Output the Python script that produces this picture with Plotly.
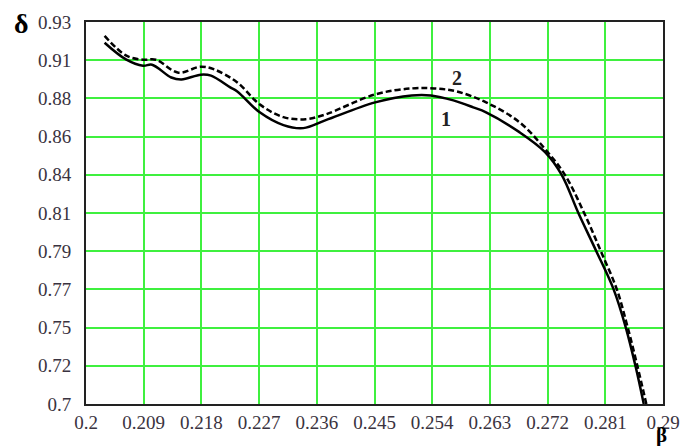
import plotly.graph_objs as go

# curve 1 (solid)
beta_1 = [0.2029, 0.2063, 0.2089, 0.2103, 0.2133, 0.2149, 0.2179, 0.2195, 0.2225, 0.2236,
          0.2271, 0.2308, 0.2339, 0.2374, 0.2451, 0.2508, 0.2538, 0.2573, 0.2604, 0.2624,
          0.2676, 0.2716, 0.2742, 0.2768, 0.2796, 0.2823, 0.2842, 0.2857, 0.2870]
delta_1 = [0.9175, 0.9073, 0.9037, 0.9043, 0.8966, 0.8954, 0.8983, 0.8977, 0.8906, 0.8882,
           0.8756, 0.8679, 0.8661, 0.8709, 0.8816, 0.8858, 0.8858, 0.8828, 0.8786, 0.8756,
           0.8637, 0.8517, 0.8380, 0.8150, 0.7920, 0.7690, 0.7460, 0.7230, 0.7000]

# curve 2 (dashed)
beta_2 = [0.2029, 0.2063, 0.2089, 0.2109, 0.2144, 0.2179, 0.2201, 0.2236, 0.2271, 0.2308,
          0.2343, 0.2374, 0.2451, 0.2508, 0.2543, 0.2578, 0.2624, 0.2676, 0.2716, 0.2747,
          0.2777, 0.2803, 0.2828, 0.2845, 0.2860, 0.2874]
delta_2 = [0.9216, 0.9097, 0.9073, 0.9073, 0.8995, 0.9031, 0.9013, 0.8936, 0.8804, 0.8727,
           0.8715, 0.8744, 0.8864, 0.8900, 0.8900, 0.8882, 0.8816, 0.8697, 0.8535, 0.8380,
           0.8150, 0.7920, 0.7690, 0.7460, 0.7230, 0.7000]

x_ticks = [0.2, 0.209, 0.218, 0.227, 0.236, 0.245, 0.254, 0.263, 0.272, 0.281, 0.29]
x_labels = ["0.2", "0.209", "0.218", "0.227", "0.236", "0.245", "0.254", "0.263", "0.272", "0.281", "0.29"]
y_ticks = [0.7, 0.723, 0.746, 0.769, 0.792, 0.815, 0.838, 0.861, 0.884, 0.907, 0.93]
y_labels = ["0.7", "0.72", "0.75", "0.77", "0.79", "0.81", "0.84", "0.86", "0.88", "0.91", "0.93"]

serif = "Liberation Serif, Times New Roman, serif"
grid = "#3ff03f"

fig = go.Figure()
fig.add_trace(go.Scatter(x=beta_1, y=delta_1, mode="lines", line=dict(color="black", width=2.5, shape="spline"), name="1"))
fig.add_trace(go.Scatter(x=beta_2, y=delta_2, mode="lines", line=dict(color="black", width=2.5, dash="6px,3px", shape="spline"), name="2"))

fig.add_annotation(x=0.2561, y=0.8715, text="<b>1</b>", showarrow=False, font=dict(family=serif, size=20, color="#222"))
fig.add_annotation(x=0.2578, y=0.8960, text="<b>2</b>", showarrow=False, font=dict(family=serif, size=20, color="#222"))
fig.add_annotation(xref="paper", yref="paper", x=-0.111, y=0.995, xanchor="center", yanchor="middle",
                   text="<b>δ</b>", showarrow=False, font=dict(family=serif, size=28, color="black"))
fig.add_annotation(xref="paper", yref="paper", x=0.998, y=-0.082, xanchor="center", yanchor="middle",
                   text="<b>β</b>", showarrow=False, font=dict(family=serif, size=21, color="black"))

fig.update_layout(
    width=692, height=446,
    margin=dict(l=86, r=19, t=19, b=42),
    plot_bgcolor="white", paper_bgcolor="white",
    showlegend=False,
    font=dict(family=serif, size=19, color="#3a3340"),
)
fig.update_xaxes(range=[0.2, 0.29], tickvals=x_ticks, ticktext=x_labels,
                 showgrid=True, gridcolor=grid, gridwidth=1.5,
                 showline=True, linecolor="#222", linewidth=2, mirror=True,
                 ticks="", ticklabelstandoff=0, zeroline=False)
fig.update_yaxes(range=[0.7, 0.93], tickvals=y_ticks, ticktext=y_labels,
                 showgrid=True, gridcolor=grid, gridwidth=1.5,
                 showline=True, linecolor="#222", linewidth=2, mirror=True,
                 ticks="", ticklabelstandoff=9, zeroline=False)

fig.write_html("out.html", config={"displayModeBar": False},
               post_script="document.body.style.margin='0';")
